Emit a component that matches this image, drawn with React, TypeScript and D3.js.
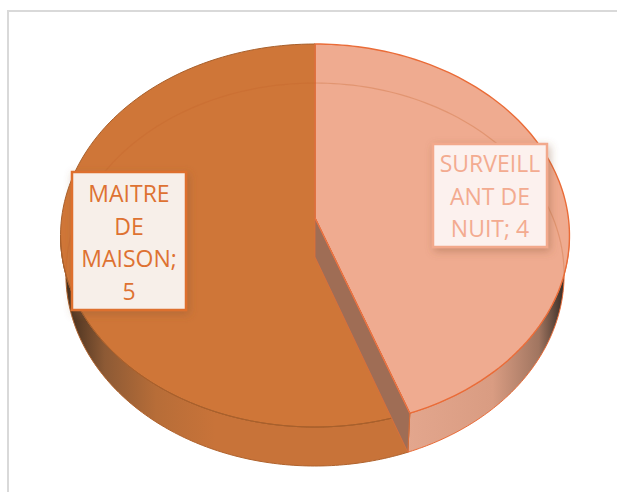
import React from 'react';
import * as d3 from 'd3';

const categories = ['SURVEILLANT DE NUIT', 'MAITRE DE MAISON'];
const values = [4, 5];
const labelLines = [
  ['SURVEILL', 'ANT DE', 'NUIT; 4'],
  ['MAITRE', 'DE', 'MAISON;', '5'],
];
const faceColors = ['#efab90', '#cf7638'];
const edgeColors = ['#ea6c38', '#a8602c'];
const sideFills = ['url(#sideRight)', 'url(#sideLeft)'];
const labelBoxes = [
  { x: 433, y: 144, w: 114, h: 103, fill: '#fcf1ee', stroke: '#f2a98c', text: '#f3ab90', first: 172 },
  { x: 72, y: 172, w: 114, h: 138, fill: '#f7efe9', stroke: '#de6f2e', text: '#de7232', first: 202 },
];

const width = 617;
const height = 492;

// tilted disc, seen in perspective: the centre sits above the middle of the ellipse
const cx = 315;
const cy = 218;
const radiusX = 253.4;
const radiusY = 189.9;
const tilt = 0.0914;
const depth = 39;
const lowerScale = 0.979; // the underside is further away, so a bit narrower

const project = (a: number, drop = 0): [number, number] => {
  const u = Math.sin(a);
  const v = Math.cos(a);
  const w = 1 + tilt * v;
  const sx = drop > 0 ? lowerScale : 1;
  return [cx + (radiusX * sx * u) / w, cy - (radiusY * v) / w + drop];
};

const line = d3.line();
const sample = (a0: number, a1: number, drop = 0) =>
  d3.range(0, 121).map((i) => project(a0 + ((a1 - a0) * i) / 120, drop));

const frontStart = Math.acos(-tilt);
const frontEnd = 2 * Math.PI - frontStart;

const slices = d3.pie<number>().sort(null).startAngle(0).endAngle(2 * Math.PI)(values);

export default function App() {
  const split = slices[0].endAngle;
  return (
    <svg
      width={width}
      height={height}
      style={{ position: 'absolute', left: 0, top: 0, fontFamily: '"Open Sans", sans-serif' }}
    >
      <defs>
        <linearGradient id="sideLeft" gradientUnits="userSpaceOnUse" x1="68" x2="215" y1="0" y2="0">
          <stop offset="0" stopColor="#46301f" />
          <stop offset="0.25" stopColor="#8d5a35" />
          <stop offset="0.6" stopColor="#b76d38" />
          <stop offset="1" stopColor="#c87339" />
        </linearGradient>
        <linearGradient id="sideRight" gradientUnits="userSpaceOnUse" x1="408" x2="562" y1="0" y2="0">
          <stop offset="0" stopColor="#e3a68d" />
          <stop offset="0.55" stopColor="#d99c82" />
          <stop offset="0.85" stopColor="#a07560" />
          <stop offset="1" stopColor="#40322a" />
        </linearGradient>
        <filter id="labelShadow" x="-20%" y="-20%" width="140%" height="140%">
          <feDropShadow dx="2" dy="3" stdDeviation="4" floodColor="#8a5a3a" floodOpacity="0.4" />
        </filter>
      </defs>

      <path d="M8 492V11H617" fill="none" stroke="#d9d9d9" strokeWidth={2} />

      {/* rim */}
      {slices.map((s, i) => {
        const a0 = Math.max(s.startAngle, frontStart);
        const a1 = Math.min(s.endAngle, frontEnd);
        const pts = [...sample(a0, a1), ...sample(a1, a0, depth)];
        return (
          <path
            key={categories[i]}
            d={line(pts) + 'Z'}
            fill={sideFills[i]}
            stroke={i === 0 ? '#ea6c38' : '#b0622c'}
            strokeWidth={1}
          />
        );
      })}

      {/* top face */}
      {slices.map((s, i) => (
        <path
          key={categories[i]}
          d={line([[cx, cy], ...sample(s.startAngle, s.endAngle)]) + 'Z'}
          fill={faceColors[i]}
          stroke={edgeColors[i]}
          strokeWidth={i === 0 ? 1.4 : 1}
        />
      ))}
      <path d={`M${cx} ${cy}V${project(0)[1]}`} stroke="#ee7444" strokeWidth={1.2} fill="none" />

      {/* underside edge, showing through the face */}
      <path
        d={line(sample(frontEnd, frontStart + 2 * Math.PI, depth)) ?? ''}
        fill="none"
        stroke="#c4622a"
        strokeOpacity={0.3}
        strokeWidth={1.2}
      />
      <path
        d={line(sample(split, frontEnd)) ?? ''}
        fill="none"
        stroke="#a8602c"
        strokeWidth={1}
      />

      {/* cut face of the wedge */}
      <path
        d={line([project(split), project(split, depth), [cx, cy + depth], [cx, cy]]) + 'Z'}
        fill="#9f6d55"
        stroke="#e0703a"
        strokeWidth={0.8}
      />
      <path
        d={line([[cx, cy], project(split)]) ?? ''}
        fill="none"
        stroke="#ee7444"
        strokeWidth={1.2}
      />

      {/* data labels */}
      {labelBoxes.map((b, i) => (
        <g key={categories[i]}>
          <rect
            x={b.x}
            y={b.y}
            width={b.w}
            height={b.h}
            fill={b.fill}
            stroke={b.stroke}
            strokeWidth={2.5}
            filter="url(#labelShadow)"
          />
          {labelLines[i].map((t, j) => (
            <text
              key={t}
              x={b.x + b.w / 2}
              y={b.first + j * 32.5}
              textAnchor="middle"
              fontSize={23}
              fill={b.text}
            >
              {t}
            </text>
          ))}
        </g>
      ))}
    </svg>
  );
}
